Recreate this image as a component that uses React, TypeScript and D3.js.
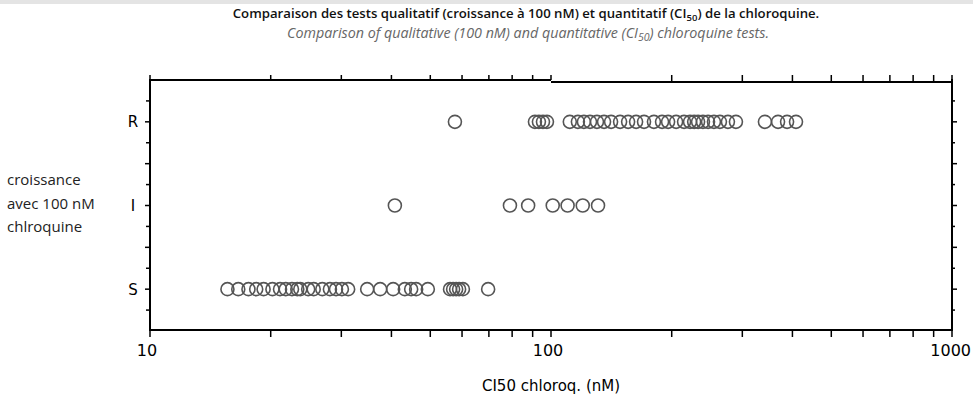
import React from "react";
import * as d3 from "d3";

const categories = ["S", "I", "R"];
const catValue: Record<string, number> = { S: 1, I: 2, R: 3 };

const sValues = [
  15.6, 16.6, 17.6, 18.4, 19.2, 20.2, 21.1, 21.8, 22.6, 23.3, 23.7, 24.8, 25.6,
  26.9, 28.1, 29.1, 30.1, 31.2, 34.8, 37.5, 40.4, 43.2, 44.8, 46.1, 49.3, 56.0,
  57.0, 58.0, 59.0, 60.3, 69.7,
];
const iValues = [40.8, 79, 87.7, 101, 110, 120, 131];
const rValues = [
  57.6, 91.2, 93.3, 95.5, 97.7, 111.4, 116.7, 120.8, 125.1, 130.2, 135.6, 141.2,
  148.7, 155.7, 163.0, 170.6, 180.6, 189.2, 195.9, 205.1, 214.7, 222.2, 227.5,
  232.7, 239.3, 246.4, 254.9, 263.8, 276.2, 289.2, 341.6, 368.3, 387.9, 408.3,
];

const xTickLabels = ["10", "100", "1000"];
const xMajor = [10, 100, 1000];
const yTicksMajor = [1, 1.5, 2, 2.5, 3];
const yTicksMinor = [0.75, 1.25, 1.75, 2.25, 2.75, 3.25];

const titleLine1a = "Comparaison des tests qualitatif (croissance à 100 nM) et quantitatif (CI";
const titleLine1b = ") de la chloroquine.";
const titleLine2a = "Comparison of qualitative (100 nM) and quantitative (CI";
const titleLine2b = ") chloroquine tests.";
const sub = "50";
const yLabelLines = ["croissance", "avec 100 nM", "chlroquine"];
const xAxisTitle = "CI50 chloroq. (nM)";

export default function App() {
  const W = 973;
  const H = 407;
  const left = 150;
  const right = 952;
  const top = 80;
  const bottom = 330;

  const x = d3.scaleLog().domain([10, 1000]).range([left, right]);
  const y = d3.scaleLinear().domain([0.5, 3.5]).range([bottom + 1, top]);

  const minorX: number[] = [];
  for (const dec of [10, 100]) for (let k = 2; k <= 9; k++) minorX.push(dec * k);

  const series: [string, number[]][] = [
    ["S", sValues],
    ["I", iValues],
    ["R", rValues],
  ];

  const axisFont = "'DejaVu Sans', sans-serif";
  const r = 6.5;

  return (
    <div style={{ position: "absolute", left: 0, top: 0 }}>
      <svg width={W} height={H} style={{ display: "block", background: "#fff" }}>
        <rect x={0} y={0} width={W} height={4} fill="#e4e4e4" />
        <text
          x={526}
          y={18}
          textAnchor="middle"
          fontFamily="'Open Sans', sans-serif"
          fontWeight={600}
          fontSize={13.2}
          fill="#111"
        >
          {titleLine1a}
          <tspan fontSize={9.5} dy={3}>{sub}</tspan>
          <tspan dy={-3}>{titleLine1b}</tspan>
        </text>
        <text
          x={528}
          y={38}
          textAnchor="middle"
          fontFamily="'Open Sans', sans-serif"
          fontStyle="italic"
          fontSize={14.3}
          fill="#666"
        >
          {titleLine2a}
          <tspan fontSize={10.5} dy={3}>{sub}</tspan>
          <tspan dy={-3}>{titleLine2b}</tspan>
        </text>

        {/* frame */}
        <g stroke="#000" strokeWidth={2} fill="none">
          <line x1={left} x2={x(100)} y1={top} y2={top} />
          <line x1={x(100)} x2={right} y1={top + 2} y2={top + 2} />
          <line x1={left} x2={right} y1={bottom} y2={bottom} />
          <line x1={left} x2={left} y1={top - 1} y2={bottom + 1} />
          <line x1={right} x2={right} y1={top - 1} y2={bottom + 1} />
        </g>

        {/* x ticks */}
        <g stroke="#000" strokeWidth={1.5}>
          {[...xMajor, ...minorX].map((v, i) => (
            <g key={"xt" + i}>
              <line x1={x(v)} x2={x(v)} y1={bottom} y2={bottom + 7} />
              <line x1={x(v)} x2={x(v)} y1={top + (v > 100 ? 2 : 0)} y2={top - 5} />
            </g>
          ))}
        </g>
        {/* y ticks */}
        <g stroke="#000" strokeWidth={1.5}>
          {yTicksMajor.map((v, i) => (
            <g key={"yt" + i}>
              <line x1={left} x2={left - 5} y1={y(v)} y2={y(v)} />
              <line x1={right} x2={right + 5} y1={y(v)} y2={y(v)} />
            </g>
          ))}
          {yTicksMinor.map((v, i) => (
            <g key={"ym" + i}>
              <line x1={left} x2={left - 4} y1={y(v)} y2={y(v)} />
              <line x1={right} x2={right + 3} y1={y(v)} y2={y(v)} />
            </g>
          ))}
        </g>

        {/* x tick labels */}
        {xMajor.map((v, i) => (
          <text
            key={"xl" + i}
            x={v === 1000 ? 971 : x(v) - 3}
            y={356}
            textAnchor={v === 1000 ? "end" : "middle"}
            fontFamily={axisFont}
            fontSize={16}
            fill="#000"
          >
            {xTickLabels[i]}
          </text>
        ))}
        <text
          x={551}
          y={391}
          textAnchor="middle"
          fontFamily={axisFont}
          fontSize={15}
          fill="#000"
        >
          {xAxisTitle}
        </text>

        {/* y category labels */}
        {categories.map((c) => (
          <text
            key={"yl" + c}
            x={133}
            y={y(catValue[c]) + 5.5}
            textAnchor="middle"
            fontFamily={axisFont}
            fontSize={15}
            fill="#000"
          >
            {c}
          </text>
        ))}

        {/* y label */}
        {yLabelLines.map((t, i) => (
          <text
            key={"ylab" + i}
            x={7}
            y={185 + i * 23.5}
            fontFamily="'Open Sans', sans-serif"
            fontSize={15}
            fill="#222"
          >
            {t}
          </text>
        ))}

        {/* points */}
        {series.map(([c, vals]) =>
          vals.map((v, i) => (
            <circle
              key={c + i}
              cx={x(v)}
              cy={y(catValue[c])}
              r={r}
              fill="none"
              stroke="#555"
              strokeWidth={1.6}
            />
          ))
        )}
      </svg>
    </div>
  );
}
